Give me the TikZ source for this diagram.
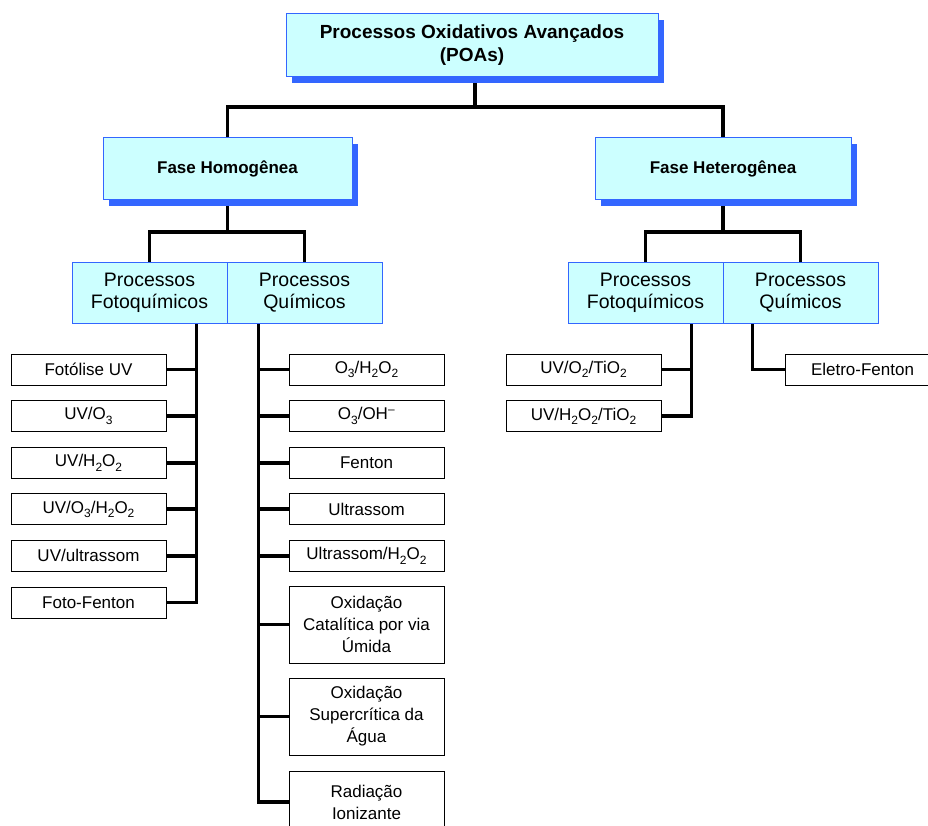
\documentclass[tikz,border=0pt]{standalone}
\usepackage{fontspec}
\setmainfont{Liberation Sans}
\usetikzlibrary{positioning}
\usetikzlibrary{shadows}
\usetikzlibrary{backgrounds}
\definecolor{boxfill}{HTML}{CCFFFF}
\definecolor{boxline}{HTML}{3366FF}
\tikzset{
    headbox/.style={draw=boxline, line width=1pt, fill=boxfill, align=center, inner sep=0pt,
        drop shadow={shadow xshift=6pt, shadow yshift=-6pt, fill=boxline, opacity=1}},
    procbox/.style={draw=boxline, line width=1pt, fill=boxfill, align=center, inner sep=0pt,
        minimum width=155pt, minimum height=61pt, font=\fontsize{19.5}{22}\selectfont},
    leafbox/.style={draw, line width=0.9pt, fill=white, align=center, inner sep=0pt,
        minimum width=155pt, minimum height=31pt, font=\fontsize{17}{22}\selectfont},
    conn/.style={line width=3.7pt}
}
\newcommand{\sub}[1]{\raisebox{-4.5pt}{\fontsize{12}{12}\selectfont #1}}

\begin{document}
\begin{tikzpicture}[x=1pt, y=-1pt]
  \useasboundingbox (0,0) rectangle (928,826);
  % top level
  \node[headbox, minimum width=372pt, minimum height=63pt, font=\bfseries\fontsize{19}{23}\selectfont] (poa) at (472,45.5) {Processos Oxidativos Avançados\\(POAs)};
  \node[headbox, minimum width=249pt, minimum height=62pt, font=\bfseries\fontsize{17}{20}\selectfont] (homo) at (227.5,169) {Fase Homogênea};
  \node[headbox, minimum width=256pt, minimum height=62pt, font=\bfseries\fontsize{17}{20}\selectfont] (het) at (723,169) {Fase Heterogênea};
  % process boxes
  \node[procbox] (hfoto) at (149.5,292.5) {Processos\\Fotoquímicos};
  \node[procbox] (hquim) at (304.5,292.5) {Processos\\Químicos};
  \node[procbox] (tfoto) at (645.5,292.5) {Processos\\Fotoquímicos};
  \node[procbox] (tquim) at (800.5,292.5) {Processos\\Químicos};
  % homogeneous, photochemical
  \node[leafbox] (foto1) at (88.5,369.5) {Fotólise UV};
  \node[leafbox] (foto2) at (88.5,416.1) {UV/O\sub{3}};
  \node[leafbox] (foto3) at (88.5,462.7) {UV/H\sub{2}O\sub{2}};
  \node[leafbox] (foto4) at (88.5,509.3) {UV/O\sub{3}/H\sub{2}O\sub{2}};
  \node[leafbox] (foto5) at (88.5,555.9) {UV/ultrassom};
  \node[leafbox] (foto6) at (88.5,602.5) {Foto-Fenton};
  % homogeneous, chemical
  \node[leafbox] (quim1) at (366.5,369.5) {O\sub{3}/H\sub{2}O\sub{2}};
  \node[leafbox] (quim2) at (366.5,416.1) {O\sub{3}/OH\textsuperscript{--}};
  \node[leafbox] (quim3) at (366.5,462.7) {Fenton};
  \node[leafbox] (quim4) at (366.5,509.3) {Ultrassom};
  \node[leafbox] (quim5) at (366.5,555.9) {Ultrassom/H\sub{2}O\sub{2}};
  \node[leafbox, minimum height=77pt] (quim6) at (366.5,624.5) {Oxidação\\Catalítica por via\\Úmida};
  \node[leafbox, minimum height=77pt] (quim7) at (366.5,716.5) {Oxidação\\Supercrítica da\\Água};
  \node[leafbox, minimum height=62pt] (quim8) at (366.5,802) {Radiação\\Ionizante};
  % heterogeneous
  \node[leafbox] (tleaf1) at (583.5,369.5) {UV/O\sub{2}/TiO\sub{2}};
  \node[leafbox] (tleaf2) at (583.5,416.1) {UV/H\sub{2}O\sub{2}/TiO\sub{2}};
  \node[leafbox] (eletro) at (862.5,369.5) {Eletro-Fenton};

  % connectors
  \begin{scope}[on background layer]
    \coordinate (split) at (475.25,107);
    \draw[conn] (homo.north) |- (split) -| (het.north);
    \draw[conn] (poa.south -| split) -- (split);
    \coordinate (hsplit) at (homo.south |- 0,232);
    \draw[conn] (hfoto.north) |- (hsplit) -| (hquim.north);
    \draw[conn] (homo.south) -- (hsplit);
    \coordinate (tsplit) at (het.south |- 0,232);
    \draw[conn] (tfoto.north) |- (tsplit) -| (tquim.north);
    \draw[conn] (het.south) -- (tsplit);
    % buses
    \coordinate (hfbus) at ([xshift=-31pt]hfoto.south east);
    \draw[conn] (hfbus) |- (foto6.east);
    \foreach \i in {1,...,5}
      \draw[conn] (foto\i.east) -- (foto\i.east -| hfbus);
    \coordinate (hqbus) at ([xshift=32pt]hquim.south west);
    \draw[conn] (hqbus) |- (quim8.west);
    \foreach \i in {1,...,7}
      \draw[conn] (quim\i.west) -- (quim\i.west -| hqbus);
    \coordinate (tfbus) at ([xshift=-32pt]tfoto.south east);
    \draw[conn] (tfbus) |- (tleaf2.east);
    \draw[conn] (tleaf1.east) -- (tleaf1.east -| tfbus);
    \coordinate (tqbus) at ([xshift=30pt]tquim.south west);
    \draw[conn] (tqbus) |- (eletro.west);
  \end{scope}
\end{tikzpicture}
\end{document}
